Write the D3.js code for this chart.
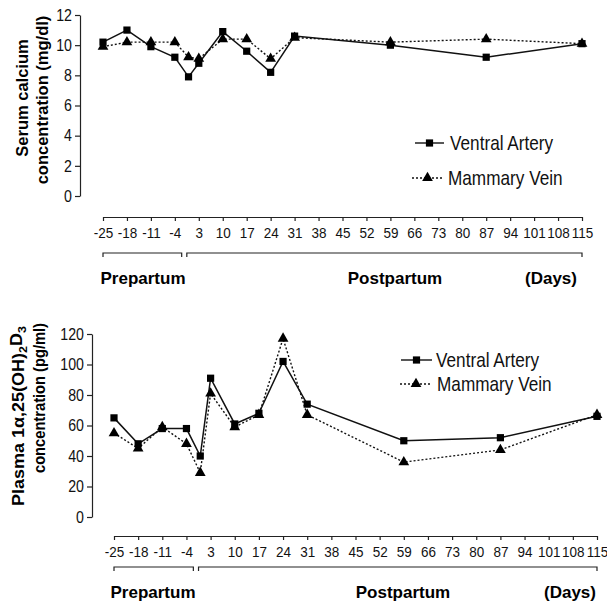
<!DOCTYPE html>
<html>
<head>
<meta charset="utf-8">
<script src="https://cdn.jsdelivr.net/npm/d3@7"></script>
<style>
  html, body { margin: 0; padding: 0; background: #fff; }
  svg { display: block; }
  .narrow { font-family: "Liberation Sans", Arial, sans-serif; }
  .bold { font-family: "Liberation Sans", Arial, sans-serif; font-weight: bold; }
</style>
</head>
<body>
<svg id="chart" width="607" height="601"></svg>
<script>
// ---- data ----
const days = [-25, -18, -11, -4, 0, 3, 10, 17, 24, 31, 59, 87, 115];
const calciumArtery = [10.2, 11.0, 9.9, 9.2, 7.9, 8.8, 10.9, 9.6, 8.2, 10.6, 10.0, 9.2, 10.1];
const calciumVein   = [9.9, 10.2, 10.2, 10.2, 9.2, 9.1, 10.4, 10.4, 9.1, 10.5, 10.2, 10.4, 10.1];
const vitdArtery = [65, 48, 58, 58, 40, 91, 61, 68, 102, 74, 50, 52, 66];
const vitdVein   = [55, 45, 59, 48, 29, 81, 59, 67, 117, 67, 36, 44, 67];
const xTicks = d3.range(-25, 116, 7);
const calciumTicks = [0, 2, 4, 6, 8, 10, 12];
const vitdTicks = [0, 20, 40, 60, 80, 100, 120];
const seriesNames = ["Ventral Artery", "Mammary Vein"];
const periods = [
  { label: "Prepartum", from: -25, to: -2 },
  { label: "Postpartum", from: -0.5, to: 115 }
];

const svg = d3.select("#chart");

// horizontally condense text (emulates a narrow face)
function squeeze(sel, s) {
  sel.each(function () {
    const t = d3.select(this);
    const x = +(t.attr("x") || 0);
    t.attr("x", x / s).attr("transform", `scale(${s},1)`);
  });
}

function panel(cfg) {
  const g = svg.append("g");
  const x = d3.scaleLinear().domain([-25, 115]).range(cfg.xRange);
  const y = d3.scaleLinear().domain(cfg.yDomain).range(cfg.yRange);

  // y axis
  const ya = g.append("g")
    .attr("transform", `translate(${cfg.yAxisX},0)`)
    .call(d3.axisLeft(y).tickValues(cfg.yTicks).tickFormat(d => String(d))
      .tickSize(5).tickPadding(3).tickSizeOuter(0));
  ya.selectAll("text").attr("class", "narrow").style("font-size", "16.5px").attr("fill", "#111")
    .call(squeeze, 0.86);
  ya.selectAll("path,line").attr("stroke", "#222").attr("stroke-width", 1.2);

  // x axis
  const xa = g.append("g")
    .attr("transform", `translate(0,${cfg.xAxisY})`)
    .call(d3.axisBottom(x).tickValues(xTicks).tickFormat(d => String(d))
      .tickSize(4).tickPadding(6).tickSizeOuter(0));
  xa.selectAll("text").attr("class", "narrow").style("font-size", "15px").attr("fill", "#111")
    .call(squeeze, 0.9);
  xa.selectAll("path,line").attr("stroke", "#222").attr("stroke-width", 1.2);

  // period brackets
  periods.forEach(p => {
    const x0 = x(p.from), x1 = x(p.to), yb = cfg.bracketY;
    g.append("path")
      .attr("d", `M${x0},${yb + 4}V${yb}H${x1}V${yb + 4}`)
      .attr("fill", "none").attr("stroke", "#222").attr("stroke-width", 1.2);
  });
  g.append("text").attr("class", "bold").style("font-size", "17px")
    .attr("x", cfg.prepX).attr("y", cfg.labelY).attr("text-anchor", "middle").text(periods[0].label);
  g.append("text").attr("class", "bold").style("font-size", "17px")
    .attr("x", cfg.postX).attr("y", cfg.labelY).attr("text-anchor", "middle").text(periods[1].label);
  g.append("text").attr("class", "bold").style("font-size", "17px")
    .attr("x", cfg.daysX).attr("y", cfg.labelY).attr("text-anchor", "middle").text("(Days)");

  // y titles
  cfg.titles.forEach(t => {
    const tx = g.append("text").attr("class", "bold").style("font-size", t.size + "px")
      .attr("transform", `translate(${t.x},${t.y}) rotate(-90)`)
      .attr("text-anchor", "middle").attr("dy", "0.35em");
    t.parts.forEach(pt => {
      const ts = tx.append("tspan").text(pt.text);
      if (pt.sub) ts.attr("dy", "0.3em").style("font-size", (t.size * 0.7) + "px");
      if (pt.unsub) ts.attr("dy", "-0.3em");
    });
    if (t.len) tx.attr("textLength", t.len).attr("lengthAdjust", "spacingAndGlyphs");
  });

  // lines
  const line = d3.line().x((d, i) => x(days[i])).y(d => y(d));
  g.append("path").datum(cfg.vein).attr("d", line)
    .attr("fill", "none").attr("stroke", "#111").attr("stroke-width", 1.4).attr("stroke-dasharray", "2,2");
  g.append("path").datum(cfg.artery).attr("d", line)
    .attr("fill", "none").attr("stroke", "#111").attr("stroke-width", 1.5);

  const tri = d3.symbol().type(d3.symbolTriangle).size(50);
  const sq = d3.symbol().type(d3.symbolSquare).size(52);
  g.selectAll(".tri").data(cfg.vein).join("path").attr("class", "tri")
    .attr("d", tri).attr("fill", "#000")
    .attr("transform", (d, i) => `translate(${x(days[i])},${y(d)})`);
  g.selectAll(".sq").data(cfg.artery).join("path").attr("class", "sq")
    .attr("d", sq).attr("fill", "#000")
    .attr("transform", (d, i) => `translate(${x(days[i])},${y(d)})`);

  // legend
  const lg = g.append("g");
  cfg.legend.forEach((L, i) => {
    lg.append("line").attr("x1", L.x0).attr("x2", L.x1).attr("y1", L.y).attr("y2", L.y)
      .attr("stroke", "#111").attr("stroke-width", 1.4)
      .attr("stroke-dasharray", i === 1 ? "2,2" : null);
    lg.append("path").attr("d", i === 0 ? sq : tri).attr("fill", "#000")
      .attr("transform", `translate(${(L.x0 + L.x1) / 2},${L.y})`);
    lg.append("text").attr("class", "narrow").style("font-size", "20px").attr("fill", "#111")
      .attr("x", L.tx).attr("y", L.y).attr("dy", "0.35em").text(seriesNames[i])
      .call(squeeze, 0.86);
  });
}

panel({
  xRange: [103, 582], yDomain: [0, 12], yRange: [196, 15], yTicks: calciumTicks,
  yAxisX: 80, xAxisY: 217, bracketY: 253, labelY: 284,
  prepX: 143, postX: 395, daysX: 551,
  artery: calciumArtery, vein: calciumVein,
  titles: [
    { x: 22, y: 98, size: 16.5, parts: [{ text: "Serum calcium" }] },
    { x: 42, y: 100, size: 16.5, parts: [{ text: "concentration (mg/dl)" }] }
  ],
  legend: [
    { x0: 415, x1: 444, y: 143, tx: 450 },
    { x0: 412, x1: 443, y: 178, tx: 448 }
  ]
});

panel({
  xRange: [114, 597], yDomain: [0, 120], yRange: [517, 334], yTicks: vitdTicks,
  yAxisX: 92, xAxisY: 536, bracketY: 567, labelY: 598,
  prepX: 153, postX: 403, daysX: 570,
  artery: vitdArtery, vein: vitdVein,
  titles: [
    { x: 18, y: 416, size: 16, len: 180, parts: [
      { text: "Plasma 1\u03B1,25(OH)" }, { text: "2", sub: true }, { text: "D", unsub: true }, { text: "3", sub: true }
    ] },
    { x: 39, y: 398, size: 16.5, len: 150, parts: [{ text: "concentration (pg/ml)" }] }
  ],
  legend: [
    { x0: 401, x1: 432, y: 360, tx: 436 },
    { x0: 400, x1: 432, y: 384, tx: 437 }
  ]
});
</script>
</body>
</html>
